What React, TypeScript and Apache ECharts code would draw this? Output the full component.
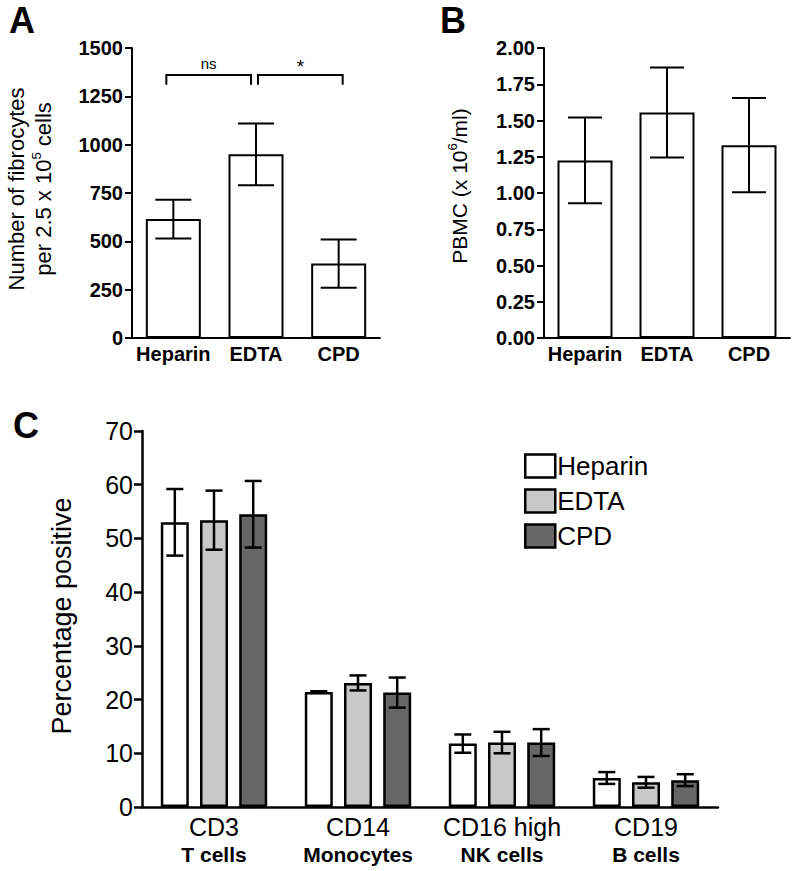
import React, { useEffect, useRef } from "react";
import * as echarts from "echarts";

const FONT = '"Liberation Sans", Arial, Helvetica, sans-serif';

// Panels A & B
const anticoagulants = ["Heparin", "EDTA", "CPD"];
const fibrocyteMeans = [615, 950, 385];
const fibrocyteErr = [100, 160, 125];
const pbmcMeans = [1.225, 1.555, 1.33];
const pbmcErr = [0.295, 0.31, 0.325];

// Significance brackets in panel A
const bracketFrom = [0, 1];
const bracketTo = [1, 2];
const bracketLevel = [1360, 1360];
const bracketDrop = [50, 50];
const bracketLabels = ["ns", "*"];

// Panel C
const markers = ["CD3", "CD14", "CD16 high", "CD19"];
const markerCells = ["T cells", "Monocytes", "NK cells", "B cells"];
const heparinPct = [53.0, 21.4, 11.8, 5.4];
const heparinErr = [6.2, 0.15, 1.7, 1.1];
const edtaPct = [53.4, 23.1, 12.0, 4.6];
const edtaErr = [5.5, 1.4, 2.0, 1.0];
const cpdPct = [54.5, 21.3, 12.0, 5.0];
const cpdErr = [6.2, 2.8, 2.5, 1.1];

const groupColors = ["#ffffff", "#c8c8c8", "#666666"];

function errRender(capW: number, lineW: number, offset: number) {
  return (params: any, api: any) => {
    const i = api.value(0);
    const m = api.value(1);
    const e = api.value(2);
    const top = api.coord([i, m + e]);
    const bot = api.coord([i, m - e]);
    const x = top[0] + offset;
    const style = { stroke: "#000", lineWidth: lineW, fill: null };
    return {
      type: "group",
      children: [
        { type: "line", shape: { x1: x, y1: top[1], x2: x, y2: bot[1] }, style },
        { type: "line", shape: { x1: x - capW / 2, y1: top[1], x2: x + capW / 2, y2: top[1] }, style },
        { type: "line", shape: { x1: x - capW / 2, y1: bot[1], x2: x + capW / 2, y2: bot[1] }, style },
      ],
    };
  };
}

function bracketRender(params: any, api: any) {
  const k = params.dataIndex;
  const off = k === 0 ? [-7, -5] : [2, 4];
  const p1 = api.coord([bracketFrom[k], bracketLevel[k]]);
  const p2 = api.coord([bracketTo[k], bracketLevel[k]]);
  const yDrop = api.coord([bracketFrom[k], bracketLevel[k] - bracketDrop[k]])[1];
  const x1 = p1[0] + off[0];
  const x2 = p2[0] + off[1];
  const y = p1[1];
  const isStar = bracketLabels[k] === "*";
  return {
    type: "group",
    children: [
      {
        type: "polyline",
        shape: { points: [[x1, yDrop], [x1, y], [x2, y], [x2, yDrop]] },
        style: { stroke: "#000", lineWidth: 2, fill: null },
      },
      {
        type: "text",
        x: (x1 + x2) / 2,
        y: isStar ? y - 9 : y - 12,
        style: {
          text: bracketLabels[k],
          fill: "#000",
          fontSize: isStar ? 19 : 15,
          fontFamily: FONT,
          align: "center",
          verticalAlign: "middle",
        },
      },
    ],
  };
}

function axisCommon(lw: number) {
  return {
    axisLine: { show: true, lineStyle: { color: "#000", width: lw } },
    splitLine: { show: false },
  };
}

export default function App() {
  const ref = useRef<HTMLDivElement>(null);
  useEffect(() => {
    if (!ref.current) return;
    const chart = echarts.init(ref.current, null, { renderer: "svg" });

    const labelText = (size: number, weight: any = "normal") => ({
      color: "#000",
      fontSize: size,
      fontFamily: FONT,
      fontWeight: weight,
    });

    const cSeries: any[] = [];
    const cNames = ["Heparin", "EDTA", "CPD"];
    const cMeans = [heparinPct, edtaPct, cpdPct];
    const cErrs = [heparinErr, edtaErr, cpdErr];
    const barW = 28;
    const barGapPx = 11.2;
    cNames.forEach((n, g) => {
      cSeries.push({
        name: n,
        type: "bar",
        xAxisIndex: 2,
        yAxisIndex: 2,
        barWidth: barW,
        barGap: "40%",
        data: cMeans[g],
        itemStyle: { color: groupColors[g], borderColor: "#000", borderWidth: 2.5 },
        z: 2,
      });
    });
    cNames.forEach((n, g) => {
      cSeries.push({
        name: n + " SEM",
        type: "custom",
        xAxisIndex: 2,
        yAxisIndex: 2,
        renderItem: errRender(17, 2.5, (g - 1) * (barW + barGapPx)),
        data: cMeans[g].map((m, i) => [i, m, cErrs[g][i]]),
        encode: { x: 0, y: 1 },
        z: 5,
      });
    });

    const panelLabel = (t: string, x: number, y: number) => ({
      type: "text",
      x,
      y,
      style: {
        text: t,
        fill: "#000",
        fontSize: 36,
        lineHeight: 36,
        fontWeight: "bold",
        fontFamily: FONT,
        verticalAlign: "bottom",
      },
    });

    const option: any = {
      animation: false,
      backgroundColor: "#fff",
      textStyle: { fontFamily: FONT },
      grid: [
        { left: 132, top: 48, width: 248, height: 290 },
        { left: 544, top: 48, width: 246, height: 290 },
        { left: 142, top: 431, width: 576, height: 376 },
      ],
      legend: {
        data: ["Heparin", "EDTA", "CPD"],
        orient: "vertical",
        left: 524,
        top: 453,
        padding: 0,
        itemWidth: 30,
        itemHeight: 23,
        itemGap: 9,
        icon: "rect",
        selectedMode: false,
        textStyle: { ...labelText(26), lineHeight: 23, padding: [0, 0, 0, -3] },
        itemStyle: { borderColor: "#000", borderWidth: 2.5 },
      },
      xAxis: [
        {
          type: "category",
          gridIndex: 0,
          data: anticoagulants,
          ...axisCommon(2),
          axisTick: { show: false },
          axisLabel: { ...labelText(20, "bold"), margin: 6, interval: 0 },
        },
        {
          type: "category",
          gridIndex: 1,
          data: anticoagulants,
          ...axisCommon(2),
          axisTick: { show: false },
          axisLabel: { ...labelText(20, "bold"), margin: 6, interval: 0 },
        },
        {
          type: "category",
          gridIndex: 2,
          data: markers,
          ...axisCommon(2.5),
          axisTick: { show: false },
          axisLabel: {
            margin: 6,
            interval: 0,
            formatter: (v: string, i: number) => `{a|${v}}\n{b|${markerCells[i]}}`,
            rich: {
              a: { ...labelText(25), lineHeight: 28 },
              b: { ...labelText(21, "bold"), lineHeight: 26 },
            },
          },
        },
      ],
      yAxis: [
        {
          type: "value",
          gridIndex: 0,
          min: 0,
          max: 1500,
          interval: 250,
          ...axisCommon(2),
          axisTick: { show: true, length: 7, lineStyle: { color: "#000", width: 2 } },
          axisLabel: { ...labelText(20, "bold"), margin: 9, formatter: (v: number) => String(v) },
        },
        {
          type: "value",
          gridIndex: 1,
          min: 0,
          max: 2,
          interval: 0.25,
          ...axisCommon(2),
          axisTick: { show: true, length: 7, lineStyle: { color: "#000", width: 2 } },
          axisLabel: { ...labelText(20, "bold"), margin: 9, formatter: (v: number) => v.toFixed(2) },
        },
        {
          type: "value",
          gridIndex: 2,
          min: 0,
          max: 70,
          interval: 10,
          ...axisCommon(2.5),
          axisTick: { show: true, length: 8, lineStyle: { color: "#000", width: 2.5 } },
          axisLabel: { ...labelText(25), margin: 9, formatter: (v: number) => String(v) },
        },
      ],
      series: [
        {
          name: "fibrocytes",
          type: "bar",
          xAxisIndex: 0,
          yAxisIndex: 0,
          barWidth: 55,
          data: fibrocyteMeans,
          itemStyle: { color: "#fff", borderColor: "#000", borderWidth: 2 },
        },
        {
          name: "fibrocytes SEM",
          type: "custom",
          xAxisIndex: 0,
          yAxisIndex: 0,
          renderItem: errRender(36, 2, 0),
          data: fibrocyteMeans.map((m, i) => [i, m, fibrocyteErr[i]]),
          encode: { x: 0, y: 1 },
          z: 5,
        },
        {
          name: "brackets",
          type: "custom",
          xAxisIndex: 0,
          yAxisIndex: 0,
          renderItem: bracketRender,
          data: bracketLevel.map((l, k) => [bracketFrom[k], l]),
          encode: { x: 0, y: 1 },
          clip: false,
          z: 5,
        },
        {
          name: "pbmc",
          type: "bar",
          xAxisIndex: 1,
          yAxisIndex: 1,
          barWidth: 55,
          data: pbmcMeans,
          itemStyle: { color: "#fff", borderColor: "#000", borderWidth: 2 },
        },
        {
          name: "pbmc SEM",
          type: "custom",
          xAxisIndex: 1,
          yAxisIndex: 1,
          renderItem: errRender(34, 2, 0),
          data: pbmcMeans.map((m, i) => [i, m, pbmcErr[i]]),
          encode: { x: 0, y: 1 },
          z: 5,
        },
        ...cSeries,
      ],
      graphic: [
        panelLabel("A", 9, 38),
        panelLabel("B", 440, 38),
        panelLabel("C", 13, 443),
        {
          type: "text",
          x: 16,
          y: 189,
          rotation: Math.PI / 2,
          style: {
            text: "Number of fibrocytes",
            fill: "#000",
            fontSize: 22,
            fontFamily: FONT,
            align: "center",
            verticalAlign: "middle",
          },
        },
        {
          type: "text",
          x: 43,
          y: 189,
          rotation: Math.PI / 2,
          style: {
            text: "{t|per 2.5 x 10}{s|5}{t| cells}",
            align: "center",
            verticalAlign: "middle",
            rich: {
              t: { fontSize: 22, fontFamily: FONT, fill: "#000", lineHeight: 26 },
              s: { fontSize: 13, fontFamily: FONT, fill: "#000", lineHeight: 13, verticalAlign: "top" },
            },
          },
        },
        {
          type: "text",
          x: 459,
          y: 186,
          rotation: Math.PI / 2,
          style: {
            text: "{t|PBMC (x 10}{s|6}{t|/ml)}",
            align: "center",
            verticalAlign: "middle",
            rich: {
              t: { fontSize: 21, fontFamily: FONT, fill: "#000", lineHeight: 26 },
              s: { fontSize: 13, fontFamily: FONT, fill: "#000", lineHeight: 13, verticalAlign: "top" },
            },
          },
        },
        {
          type: "text",
          x: 62,
          y: 616,
          rotation: Math.PI / 2,
          style: {
            text: "Percentage positive",
            fill: "#000",
            fontSize: 27,
            fontFamily: FONT,
            align: "center",
            verticalAlign: "middle",
          },
        },
      ],
    };
    chart.setOption(option);
    return () => chart.dispose();
  }, []);

  return (
    <div
      ref={ref}
      style={{ position: "absolute", left: 0, top: 0, width: 800, height: 871, background: "#fff" }}
    />
  );
}
